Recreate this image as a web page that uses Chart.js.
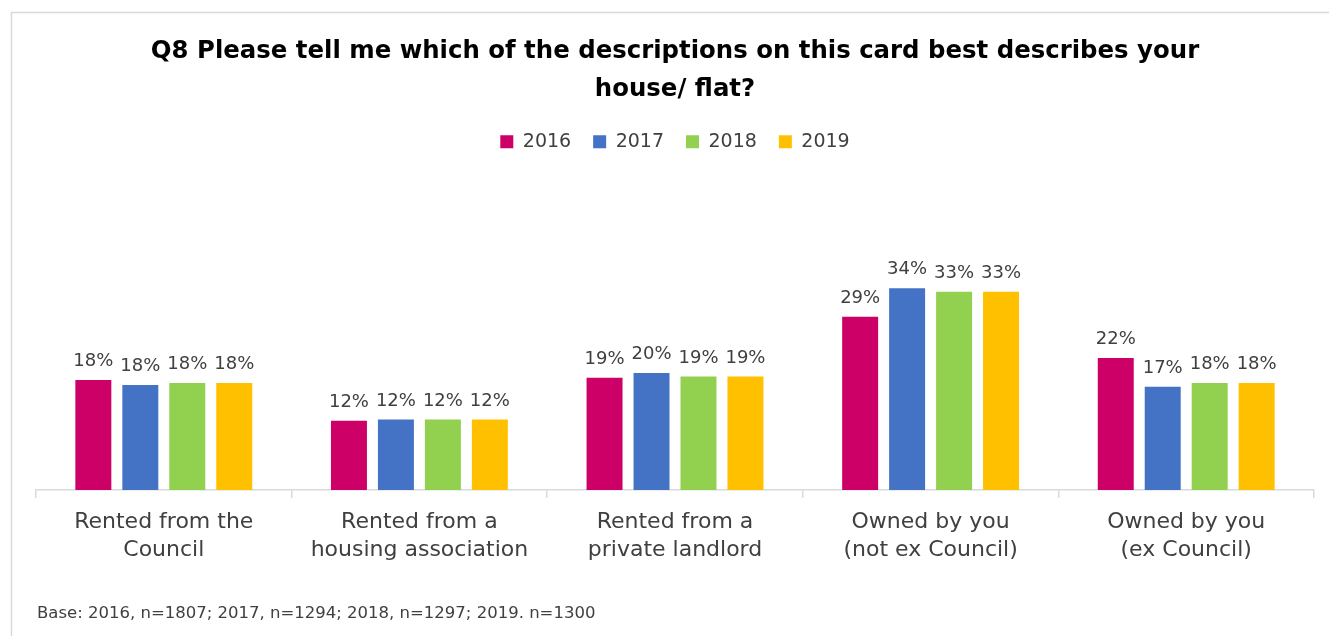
<!DOCTYPE html>
<html>
<head>
<meta charset="utf-8">
<script src="https://cdn.jsdelivr.net/npm/chart.js@4"></script>
<style>
html,body{margin:0;padding:0;background:#fff;}
#wrap{width:1329px;height:636px;position:relative;}
</style>
</head>
<body>
<div id="wrap"><canvas id="c" width="1329" height="636"></canvas></div>
<script>
// ---- data ----
const categories = [
  ['Rented from the', 'Council'],
  ['Rented from a', 'housing association'],
  ['Rented from a', 'private landlord'],
  ['Owned by you', '(not ex Council)'],
  ['Owned by you', '(ex Council)']
];
const seriesNames = ['2016', '2017', '2018', '2019'];
const values2016 = [18.4, 11.6, 18.8, 29.0, 22.1];
const values2017 = [17.6, 11.8, 19.6, 33.8, 17.3];
const values2018 = [17.9, 11.8, 19.0, 33.2, 17.9];
const values2019 = [17.9, 11.8, 19.0, 33.2, 17.9];
const labels2016 = ['18%', '12%', '19%', '29%', '22%'];
const labels2017 = ['18%', '12%', '20%', '34%', '17%'];
const labels2018 = ['18%', '12%', '19%', '33%', '18%'];
const labels2019 = ['18%', '12%', '19%', '33%', '18%'];
const colors = ['#CC0066', '#4472C4', '#92D050', '#FFC000'];
const titleLines = ['Q8 Please tell me which of the descriptions on this card best describes your', 'house/ flat?'];
const footnote = 'Base: 2016, n=1807; 2017, n=1294; 2018, n=1297; 2019. n=1300';

const FONT = "'DejaVu Sans', sans-serif";
const TEXT = '#404040';

const valueSets = [values2016, values2017, values2018, values2019];
const labelSets = [labels2016, labels2017, labels2018, labels2019];

const datasets = seriesNames.map((n, i) => ({
  label: n,
  data: valueSets[i],
  valueLabels: labelSets[i],
  backgroundColor: colors[i],
  borderWidth: 0,
  categoryPercentage: 0.735,
  barPercentage: 0.766
}));

const framePlugin = {
  id: 'frame',
  beforeInit(chart) {
    const origFit = chart.legend.fit;
    chart.legend.fit = function() {
      origFit.call(this);
      this.height += 90;
    };
  },
  beforeDraw(chart) {
    const ctx = chart.ctx;
    ctx.save();
    ctx.fillStyle = '#fff';
    ctx.fillRect(0, 0, chart.width, chart.height);
    ctx.strokeStyle = '#d9d9d9';
    ctx.lineWidth = 1.5;
    ctx.beginPath();
    ctx.moveTo(11.5, chart.height);
    ctx.lineTo(11.5, 12.5);
    ctx.lineTo(chart.width, 12.5);
    ctx.stroke();
    ctx.restore();
  },
  afterDraw(chart) {
    const ctx = chart.ctx;
    ctx.save();
    ctx.font = "16.5px " + FONT;
    ctx.fillStyle = TEXT;
    ctx.textAlign = 'left';
    ctx.textBaseline = 'middle';
    ctx.fillText(footnote, 37, 614);
    ctx.restore();
  }
};

const valueLabelPlugin = {
  id: 'valueLabels',
  afterDatasetsDraw(chart) {
    const ctx = chart.ctx;
    ctx.save();
    ctx.font = "18px " + FONT;
    ctx.fillStyle = TEXT;
    ctx.textAlign = 'center';
    ctx.textBaseline = 'alphabetic';
    chart.data.datasets.forEach((ds, i) => {
      const meta = chart.getDatasetMeta(i);
      meta.data.forEach((bar, j) => {
        ctx.fillText(ds.valueLabels[j], bar.x, bar.y - 14);
      });
    });
    ctx.restore();
  }
};

new Chart(document.getElementById('c'), {
  type: 'bar',
  data: { labels: categories, datasets },
  options: {
    responsive: false,
    animation: false,
    devicePixelRatio: 1,
    layout: { padding: { left: 36, right: 15, top: 33, bottom: 61 } },
    plugins: {
      title: {
        display: true,
        text: titleLines,
        color: '#000',
        font: { family: FONT, size: 24.4, weight: 'bold', lineHeight: 1.56 },
        padding: { top: 0, bottom: 1 }
      },
      legend: {
        display: true,
        position: 'top',
        labels: {
          color: TEXT,
          font: { family: FONT, size: 19 },
          boxWidth: 13,
          boxHeight: 13,
          padding: 22
        }
      },
      tooltip: { enabled: false }
    },
    scales: {
      x: {
        offset: true,
        grid: {
          display: true,
          offset: true,
          drawOnChartArea: false,
          drawTicks: true,
          tickLength: 8,
          color: '#d9d9d9',
          lineWidth: 1.5
        },
        border: { display: true, color: '#d9d9d9', width: 1.5 },
        ticks: {
          color: TEXT,
          font: { family: FONT, size: 22, lineHeight: 1.25 },
          padding: 11,
          maxRotation: 0,
          autoSkip: false
        }
      },
      y: {
        display: false,
        min: 0,
        max: 40
      }
    }
  },
  plugins: [framePlugin, valueLabelPlugin]
});
</script>
</body>
</html>
